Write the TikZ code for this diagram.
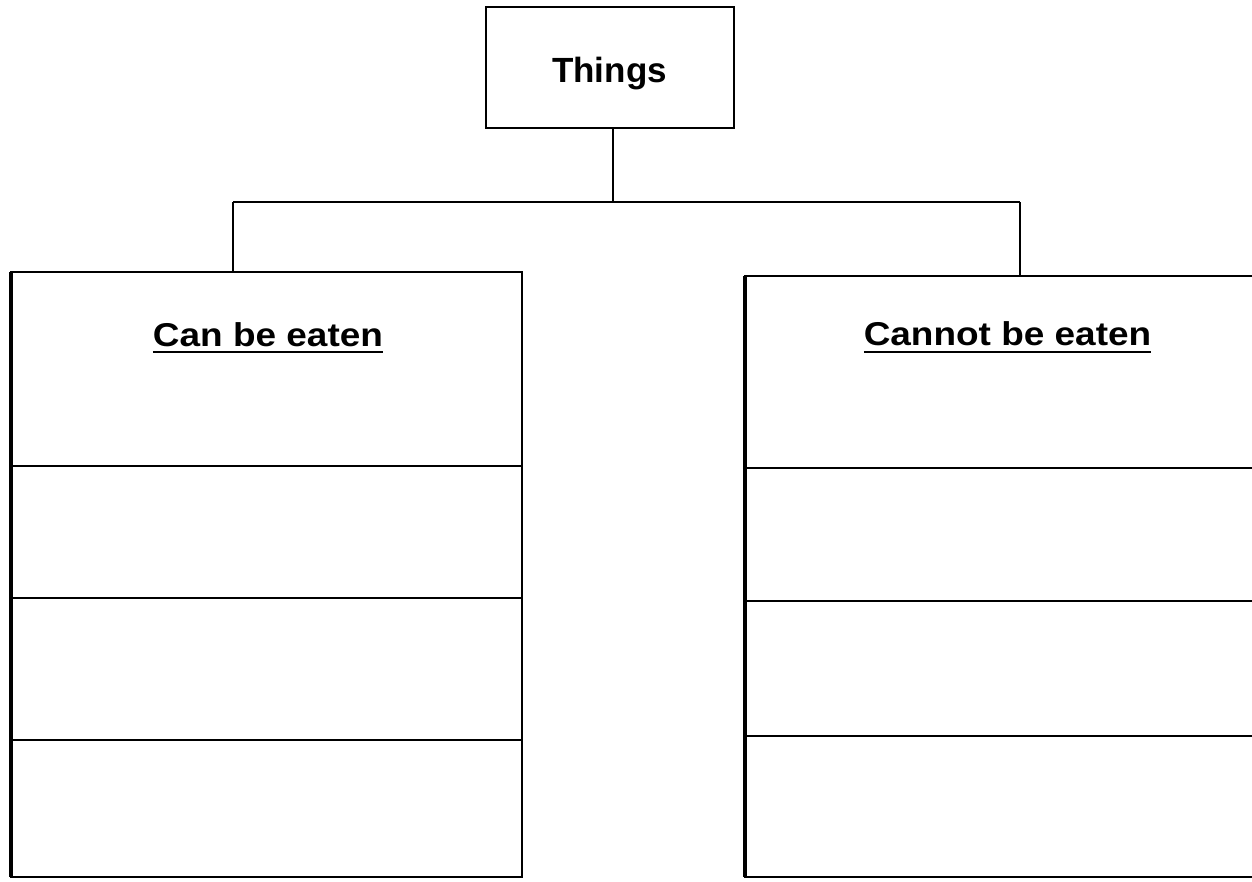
\documentclass[tikz,border=0pt]{standalone}
\usepackage{fontspec}
\setmainfont{Liberation Sans}
\begin{document}
\begin{tikzpicture}[x=1pt,y=-1pt,
  ln/.style={line width=2pt,black},
  thick edge/.style={line width=4pt,black},
  boxnode/.style={draw=none,rectangle,inner sep=0pt,outer sep=0pt},
  lbl/.style={inner sep=0pt,outer sep=0pt,anchor=base,font=\bfseries\fontsize{33}{40}\selectfont},
  ttl/.style={inner sep=0pt,outer sep=0pt,anchor=base,font=\bfseries\fontsize{35}{42}\selectfont}]
\useasboundingbox (0,0) rectangle (1252,881);
\clip (0,0) rectangle (1252,881);
% top box
\node[boxnode,draw,line width=2pt,minimum width=248pt,minimum height=121pt] (things) at (610,67.5) {};
\node[ttl] (thingstxt) at (609.5,82) {Things};
% left box
\node[boxnode,draw,line width=2pt,minimum width=511pt,minimum height=605pt] (left) at (266.5,574.5) {};
\draw[thick edge] (left.north west) -- (left.south west);
\draw[ln] (11,466) -- (522,466);
\draw[ln] (11,598) -- (522,598);
\draw[ln] (11,740) -- (522,740);
% right box (runs off the page)
\node[boxnode,draw,line width=2pt,minimum width=520pt,minimum height=601pt] (right) at (1005,576.5) {};
\draw[thick edge] (right.north west) -- (right.south west);
\draw[ln] (745,468) -- (1265,468);
\draw[ln] (745,601) -- (1265,601);
\draw[ln] (745,736) -- (1265,736);
% labels
\node[lbl] (can) at (268,346) {\scalebox{1.12}[1]{Can be eaten}};
\draw[ln] ([yshift=-6pt]can.base west) -- ([yshift=-6pt]can.base east);
\node[lbl] (cannot) at (1007.5,345) {\scalebox{1.12}[1]{Cannot be eaten}};
\draw[ln] ([yshift=-7pt]cannot.base west) -- ([yshift=-7pt]cannot.base east);
% connectors
\coordinate (jm) at (613,202);
\coordinate (jl) at (233,202);
\coordinate (jr) at (1020,202);
\draw[ln] (things.south -| jm) -- (jm);
\draw[ln] (jl) -- (jr);
\draw[ln] (jl) -- (jl |- left.north);
\draw[ln] (jr) -- (jr |- right.north);
\end{tikzpicture}
\end{document}
